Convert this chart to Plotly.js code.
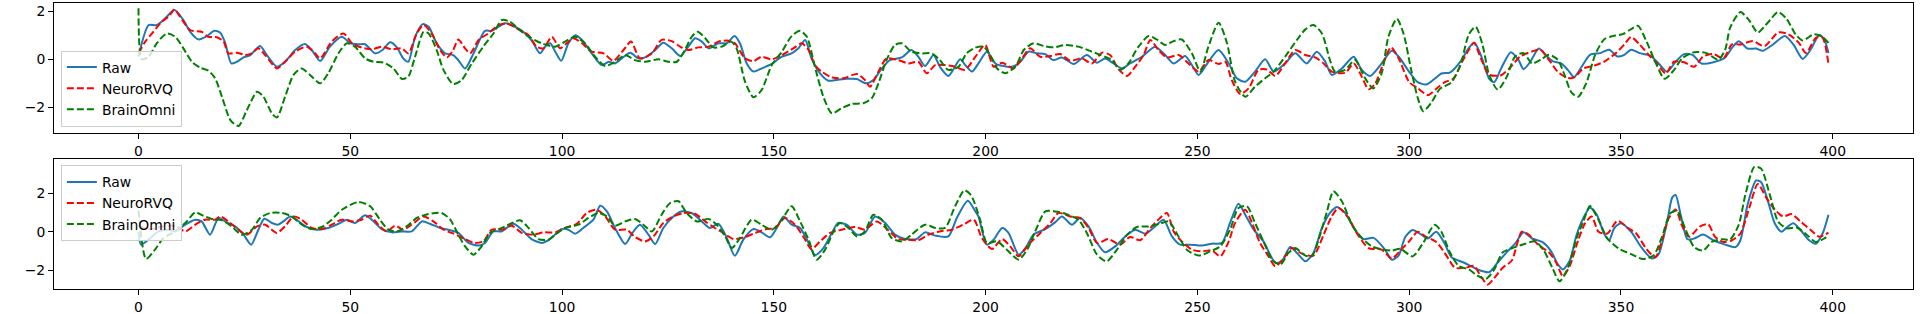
<!DOCTYPE html>
<html>
<head>
<meta charset="utf-8">
<script src="https://cdn.plot.ly/plotly-3.0.1.min.js"></script>
<style>
  html, body { margin: 0; padding: 0; background: #ffffff; }
  #chart { width: 1921px; height: 314px; }
</style>
</head>
<body>
<div id="chart"></div>
<script>
// ---- tick labels / categories ----
const xTicks = [0, 50, 100, 150, 200, 250, 300, 350, 400];
const yTicks = [-2, 0, 2];
const seriesNames = ["Raw", "NeuroRVQ", "BrainOmni"];

// ---- top panel: [sample index, value] ----
const topRaw = [[0,0.11],[2.4,1.43],[4.3,1.43],[6.3,1.71],[8.5,2.06],[10.6,1.64],[12.2,1.15],[14.2,0.83],[16.1,0.97],[17.9,1.19],[19.3,1.11],[20.5,0.67],[21.9,-0.17],[23.2,-0.1],[24.8,0.08],[26.4,0.18],[28.7,0.56],[30.3,0.18],[32.7,-0.31],[34.6,-0.1],[37.0,0.39],[39.3,0.64],[40.9,0.39],[42.9,-0.07],[45.2,0.53],[48.0,0.94],[50.0,0.67],[51.9,0.63],[53.5,0.63],[55.9,0.25],[57.6,0.39],[59.4,0.71],[61.0,0.5],[62.5,0.04],[63.7,-0.1],[65.3,0.94],[67.1,1.47],[68.5,1.36],[70.4,0.67],[72.4,0.25],[74.3,0.18],[75.5,-0.03],[77.1,-0.38],[79.1,0.25],[81.8,1.19],[83.4,1.19],[86.5,1.5],[88.9,1.36],[91.3,1.08],[93.0,0.74],[94.8,0.25],[96.0,0.53],[97.2,0.67],[98.4,0.32],[99.8,-0.06],[101.5,0.67],[103.1,1.01],[104.7,0.81],[107.0,0.25],[109.4,-0.24],[111.0,-0.1],[112.5,-0.17],[114.1,0.04],[116.1,0.28],[118.0,0.04],[119.6,0.08],[122.0,0.39],[123.9,0.69],[125.9,0.46],[127.9,0.14],[129.8,0.53],[131.4,0.88],[133.0,0.74],[134.6,0.46],[136.9,0.67],[138.9,0.67],[140.7,0.97],[142.0,0.67],[143.6,-0.17],[145.2,-0.51],[147.1,-0.38],[149.5,-0.19],[151.9,0.11],[154.2,0.25],[155.8,0.46],[157.4,0.81],[158.9,0.04],[160.9,-0.58],[162.9,-0.89],[164.8,-0.86],[167.2,-0.81],[169.6,-0.82],[171.7,-1.0],[173.5,-0.86],[175.5,-0.38],[177.4,-0.03],[180.2,0.08],[182.5,0.39],[184.1,0.11],[185.7,-0.28],[187.7,0.18],[189.2,-0.31],[191.2,-0.69],[194.0,0.0],[195.2,-0.24],[196.8,-0.51],[198.3,-0.17],[200.3,0.32],[202.3,-0.17],[204.2,-0.28],[206.2,-0.31],[208.2,-0.1],[210.1,0.32],[212.1,0.25],[214.1,0.22],[216.0,-0.03],[218.0,0.08],[220.8,-0.19],[223.9,0.18],[226.3,-0.14],[228.2,0.04],[230.2,-0.17],[232.2,-0.38],[234.1,-0.17],[236.9,0.11],[240.0,0.53],[242.4,0.18],[244.4,-0.17],[247.1,0.14],[248.7,-0.24],[250.3,-0.65],[252.6,-0.1],[255.0,0.39],[257.4,-0.17],[259.3,-0.79],[261.3,-0.93],[263.6,-0.51],[266.0,0.0],[268.0,-0.51],[270.7,-0.17],[273.1,0.25],[275.8,-0.17],[278.2,0.32],[280.2,-0.1],[281.7,-0.65],[284.1,-0.38],[286.9,0.11],[288.8,-0.44],[290.8,-0.69],[293.2,-0.24],[295.9,0.36],[297.5,0.12],[300.0,-0.52],[302.0,-0.95],[304.0,-1.05],[306.0,-0.81],[307.6,-0.59],[309.6,-0.55],[312.1,-0.09],[314.1,0.48],[315.4,0.69],[316.9,0.19],[318.9,-0.81],[320.1,-0.95],[321.7,-0.38],[324.0,0.3],[325.8,-0.02],[327.0,-0.41],[328.6,-0.1],[330.6,0.45],[332.2,0.19],[333.8,-0.07],[335.9,-0.17],[337.5,-0.45],[338.9,-0.74],[340.7,-0.31],[342.7,0.19],[345.1,0.26],[347.2,0.4],[349.2,0.12],[350.8,0.19],[352.4,0.4],[354.4,0.26],[356.9,0.16],[358.9,-0.17],[360.9,-0.52],[362.9,-0.1],[364.9,0.22],[366.9,0.19],[369.0,-0.17],[371.8,-0.12],[374.6,0.08],[376.2,0.48],[377.8,0.76],[379.9,0.45],[381.9,0.45],[383.5,0.36],[385.9,0.62],[388.7,0.97],[390.7,0.62],[392.9,0.02],[394.8,0.41],[396.8,1.02],[398.0,0.83],[399.0,0.26]];

const topNeuro = [[0,0.25],[1.6,0.74],[3.5,1.15],[5.5,1.57],[7.1,1.78],[8.5,2.08],[9.8,1.78],[12.2,1.22],[14.9,1.15],[16.5,0.94],[18.5,0.92],[20.1,0.74],[21.2,0.25],[23.2,0.28],[25.2,0.18],[26.7,0.25],[28.3,0.46],[29.9,0.18],[32.7,-0.38],[34.6,-0.1],[37.0,0.32],[39.7,0.53],[41.7,0.25],[42.9,0.04],[45.6,0.74],[48.4,1.08],[50.4,0.67],[52.7,0.49],[55.1,0.42],[57.4,0.53],[59.8,0.42],[62.2,0.46],[63.7,0.25],[65.7,1.08],[67.3,1.43],[69.2,1.08],[71.2,0.39],[72.8,0.08],[74.3,0.39],[75.5,0.83],[77.1,0.46],[78.3,0.25],[80.3,0.81],[82.6,1.08],[85.0,1.43],[87.0,1.5],[89.3,1.29],[92.1,1.01],[94.0,0.53],[95.6,0.46],[97.6,0.94],[99.5,0.46],[101.1,0.67],[102.7,0.88],[104.7,0.67],[107.0,0.32],[109.8,0.25],[112.1,-0.06],[114.5,0.39],[116.3,0.74],[118.4,0.04],[121.2,0.25],[123.5,0.81],[125.9,0.76],[127.9,0.53],[129.8,0.39],[132.2,0.5],[134.6,0.53],[136.9,0.74],[139.3,0.78],[140.8,0.67],[143.2,0.04],[145.2,-0.07],[147.1,0.11],[149.5,0.0],[151.9,0.18],[154.6,0.46],[156.6,0.67],[158.2,0.39],[159.7,-0.24],[161.3,-0.51],[163.7,-0.75],[166.4,-0.79],[169.6,-0.61],[171.5,-0.86],[172.7,-1.14],[174.7,-0.51],[176.6,0.04],[179.4,-0.03],[181.8,-0.17],[184.1,-0.1],[186.1,-0.58],[188.1,-0.24],[190.4,-0.24],[192.8,-0.31],[195.1,-0.44],[197.6,0.11],[199.9,0.6],[201.9,-0.31],[203.9,-0.14],[206.6,-0.38],[208.6,0.04],[210.5,0.46],[212.9,0.11],[215.3,0.14],[217.6,0.22],[220.0,-0.06],[222.7,0.04],[225.1,-0.17],[227.5,0.28],[229.4,0.18],[231.4,-0.42],[233.4,-0.69],[235.3,-0.31],[237.3,0.18],[238.9,0.81],[240.8,0.39],[242.8,0.08],[245.6,0.18],[247.9,-0.17],[250.3,-0.51],[252.6,-0.03],[255.0,-0.19],[256.6,-0.1],[258.1,-0.86],[260.1,-1.44],[262.1,-1.21],[264.4,-0.44],[266.4,-0.42],[268.4,-0.69],[270.7,-0.17],[273.1,0.39],[275.5,0.18],[277.8,0.08],[279.8,-0.17],[281.7,-0.51],[284.9,-0.56],[286.9,-0.17],[288.8,-0.72],[290.4,-1.25],[292.0,-1.0],[293.9,-0.17],[295.7,0.5],[297.5,0.05],[300.0,-0.95],[302.0,-1.2],[304.4,-1.49],[306.4,-1.23],[308.4,-0.95],[310.4,-0.81],[312.5,-0.1],[314.1,0.4],[315.3,0.69],[316.9,0.05],[318.9,-0.64],[321.7,-0.66],[323.8,-0.35],[326.2,0.12],[329.0,0.33],[331.0,0.4],[333.0,-0.02],[335.1,-0.52],[337.5,-0.78],[339.1,-0.74],[341.1,-0.38],[343.5,-0.27],[346.0,-0.1],[348.8,0.26],[350.8,0.62],[352.4,0.93],[354.4,0.62],[356.9,0.12],[358.5,-0.17],[360.6,-0.59],[362.5,-0.1],[364.9,-0.12],[367.3,-0.31],[369.4,0.12],[371.8,0.22],[374.2,0.05],[376.2,0.62],[378.2,0.62],[381.1,0.76],[383.9,0.55],[387.1,1.12],[389.5,1.05],[392.0,0.69],[393.7,0.26],[396.0,0.9],[397.6,0.9],[399.0,-0.21]];

const topBrain = [[0,2.13],[0.8,0.0],[2.4,0.11],[4.3,0.67],[6.7,1.08],[8.7,0.94],[10.6,0.46],[12.6,-0.1],[14.6,-0.35],[16.5,-0.47],[18.1,-0.79],[19.7,-1.56],[21.7,-2.53],[23.6,-2.78],[25.6,-2.11],[28.0,-1.35],[29.5,-1.56],[31.5,-2.25],[32.7,-2.42],[34.6,-1.56],[36.6,-0.65],[38.5,-0.38],[40.5,-0.65],[42.9,-1.0],[44.8,-0.58],[47.2,0.25],[49.2,0.67],[51.1,0.53],[53.5,0.04],[55.5,-0.1],[57.8,-0.13],[60.2,-0.38],[62.2,-0.82],[63.7,-0.72],[65.3,0.11],[67.3,1.15],[68.5,1.08],[70.4,0.39],[72.0,-0.44],[74.3,-1.03],[76.3,-0.86],[78.7,-0.17],[81.4,0.53],[83.8,1.08],[85.8,1.64],[87.7,1.57],[90.5,1.15],[92.8,0.88],[95.2,0.67],[98.4,0.53],[100.7,0.74],[103.1,0.94],[105.4,0.67],[107.8,0.11],[110.2,-0.28],[112.5,-0.1],[114.9,0.18],[117.2,-0.03],[119.6,-0.1],[122.8,0.0],[125.1,-0.1],[127.1,-0.1],[129.0,0.39],[130.6,0.94],[132.0,1.15],[133.8,0.88],[135.7,0.5],[137.7,0.53],[139.9,0.74],[141.2,0.46],[143.2,-0.93],[145.2,-1.58],[147.1,-1.28],[149.5,-0.24],[151.9,0.32],[154.2,0.97],[156.2,1.19],[157.8,0.94],[159.7,-0.31],[161.7,-1.56],[163.7,-2.25],[166.0,-2.04],[168.4,-1.86],[171.1,-1.83],[173.1,-1.63],[174.7,-1.0],[176.6,-0.03],[178.6,0.6],[180.2,0.67],[182.5,0.32],[184.9,0.25],[187.3,0.25],[189.2,-0.03],[191.2,-0.44],[193.6,-0.31],[195.5,0.25],[197.6,0.49],[199.5,0.53],[201.1,0.18],[202.7,-0.38],[204.6,-0.58],[207.0,-0.31],[209.0,0.39],[211.3,0.67],[213.7,0.56],[216.0,0.5],[218.8,0.6],[221.9,0.53],[225.1,0.32],[228.2,0.11],[229.8,-0.03],[231.8,-0.44],[233.7,-0.17],[236.1,0.53],[238.5,0.97],[240.4,0.83],[242.4,0.6],[244.4,0.76],[246.3,0.83],[248.7,0.25],[250.7,-0.51],[252.6,0.53],[255.0,1.53],[257.0,0.67],[258.9,-0.93],[261.3,-1.56],[263.6,-1.14],[266.0,-0.79],[268.0,-0.51],[270.7,0.11],[273.5,0.81],[275.5,1.25],[277.4,1.43],[279.4,1.08],[281.3,-0.03],[282.5,-0.51],[284.9,-0.44],[287.2,-0.03],[289.6,-0.79],[291.5,-1.21],[293.5,-0.58],[295.1,0.95],[297.1,1.69],[298.7,1.05],[300.4,-0.38],[302.0,-1.59],[303.3,-2.16],[305.2,-1.81],[307.2,-1.24],[310.0,-0.95],[312.1,-0.24],[314.1,1.05],[315.7,1.36],[317.3,0.62],[318.9,-0.66],[320.9,-1.26],[323.0,-0.74],[325.0,0.12],[327.0,0.26],[329.0,-0.17],[331.0,-0.02],[333.0,0.19],[335.1,-0.02],[336.7,-0.66],[338.3,-1.38],[339.9,-1.56],[341.9,-0.95],[343.9,0.19],[346.0,0.83],[348.0,0.97],[350.4,1.05],[352.4,1.26],[354.0,1.4],[356.0,0.76],[358.1,-0.1],[360.3,-0.81],[362.5,-0.45],[364.5,0.05],[367.3,0.3],[370.2,0.26],[373.0,-0.02],[374.6,0.4],[375.8,1.33],[378.2,1.97],[380.3,1.62],[382.3,1.12],[384.7,1.54],[387.1,1.97],[389.1,1.69],[391.2,1.05],[392.9,0.79],[395.6,1.05],[397.6,0.93],[399.0,0.69]];

// ---- bottom panel ----
const botRaw = [[0,0.0],[0.6,-0.66],[2.8,-0.31],[4.7,0.03],[7.1,0.12],[8.7,0.03],[11.0,0.38],[13.4,0.64],[14.9,0.55],[16.9,-0.14],[18.9,0.73],[20.8,0.5],[22.8,0.29],[24.8,-0.14],[26.6,-0.66],[28.3,0.12],[29.7,0.69],[31.5,0.47],[32.9,0.38],[34.2,0.55],[35.8,0.81],[37.8,0.55],[39.7,0.26],[42.1,0.12],[44.8,0.21],[47.2,0.43],[49.2,0.64],[51.1,0.47],[53.5,0.87],[55.5,0.55],[57.4,0.15],[59.8,-0.02],[62.2,0.03],[64.5,0.03],[66.9,0.55],[68.8,0.43],[71.2,0.21],[73.6,0.09],[75.5,-0.05],[77.9,-0.57],[80.3,-0.71],[81.8,-0.57],[83.8,0.03],[85.8,0.03],[88.5,0.43],[90.5,0.12],[92.8,-0.37],[95.2,-0.57],[97.0,-0.4],[99.9,0.15],[101.5,0.12],[103.1,-0.09],[105.0,0.21],[107.4,0.64],[109.0,1.37],[110.6,1.07],[112.5,0.21],[114.9,-0.63],[116.6,-0.05],[118.4,0.38],[120.4,-0.14],[122.0,-0.63],[123.9,0.21],[126.3,0.81],[128.1,1.07],[130.6,0.99],[133.0,0.55],[134.9,0.21],[136.9,0.43],[138.9,-0.31],[140.8,-1.24],[142.8,-0.4],[145.2,0.15],[147.1,-0.02],[149.1,-0.28],[150.7,0.21],[152.3,0.81],[154.2,0.38],[156.2,0.21],[158.2,-0.57],[159.7,-1.2],[161.7,-0.84],[163.7,-0.05],[165.2,0.47],[167.2,0.38],[169.6,-0.14],[171.5,-0.05],[173.9,0.81],[176.3,0.47],[178.6,-0.14],[181.0,-0.37],[183.7,-0.37],[185.7,-0.02],[188.1,-0.19],[191.2,-0.23],[193.2,0.73],[195.8,1.62],[197.5,1.1],[198.3,0.81],[200.3,-0.66],[201.9,-0.4],[203.9,0.21],[205.4,-0.05],[207.8,-1.18],[209.4,-0.84],[211.3,-0.14],[214.1,0.15],[216.4,0.5],[218.0,0.81],[220.4,0.38],[222.3,0.73],[224.3,0.29],[226.3,-0.57],[228.2,-1.06],[230.6,-0.75],[233.0,-0.23],[235.3,0.12],[237.7,-0.09],[240.0,0.29],[242.0,0.64],[244.0,-0.23],[245.9,-0.66],[248.3,-0.66],[251.1,-0.71],[253.4,-0.61],[255.8,-0.57],[257.7,0.47],[259.7,1.47],[261.3,0.9],[263.3,0.12],[265.6,-0.49],[268.4,-1.61],[269.9,-1.53],[271.9,-0.78],[273.5,-1.09],[275.5,-1.53],[277.4,-1.09],[279.4,0.21],[281.3,0.99],[282.9,1.3],[284.9,0.99],[286.9,0.21],[289.2,-0.37],[291.6,-0.31],[294.3,-0.92],[295.9,-1.45],[297.5,-1.23],[299.1,-0.25],[300.8,0.1],[302.8,-0.13],[304.4,-0.34],[306.4,0.01],[308.4,-0.61],[310.0,-1.32],[312.9,-1.59],[316.1,-1.95],[318.9,-2.09],[320.9,-1.59],[323.0,-1.06],[325.0,-0.61],[327.0,-0.02],[329.0,-0.34],[331.4,-0.52],[333.4,-0.97],[335.1,-1.68],[336.3,-1.95],[337.9,-1.5],[339.5,-0.17],[341.1,0.72],[342.7,1.26],[344.3,0.9],[346.0,-0.08],[347.2,-0.43],[348.4,0.19],[350.0,0.46],[352.4,0.01],[354.8,-0.79],[357.3,-1.38],[358.9,-1.15],[360.9,0.55],[362.1,1.79],[362.9,1.93],[364.1,0.9],[365.7,-0.38],[367.3,-0.34],[369.4,-0.13],[371.8,-0.43],[374.6,-0.66],[377.0,-0.79],[378.2,-0.43],[379.9,1.43],[381.9,2.68],[383.1,2.59],[384.7,1.61],[386.3,0.45],[387.9,0.01],[389.1,0.23],[390.7,0.45],[392.4,0.1],[394.4,-0.43],[396.0,-0.61],[397.6,-0.08],[399.0,0.9]];

const botNeuro = [[0,0.3],[1.5,0.2],[3.0,0.15],[6.0,0.3],[9.0,0.3],[11.0,0.03],[13.4,0.38],[15.7,0.64],[18.1,0.64],[19.3,0.81],[21.2,0.55],[23.6,0.12],[25.6,-0.14],[28.0,0.29],[29.9,0.38],[32.6,-0.05],[34.6,0.29],[36.6,0.81],[38.5,0.64],[40.9,0.21],[43.3,0.15],[45.6,0.38],[48.0,0.64],[50.4,0.55],[52.7,0.64],[54.7,0.85],[56.6,0.38],[58.6,0.03],[60.6,0.33],[62.5,0.12],[64.5,0.38],[67.3,0.81],[69.6,0.55],[72.0,0.12],[74.4,-0.09],[77.1,-0.37],[79.1,-0.57],[81.4,-0.49],[83.4,0.12],[85.8,0.12],[88.1,0.33],[90.5,-0.05],[93.2,-0.14],[95.6,-0.02],[98.4,-0.02],[100.7,0.21],[103.5,0.43],[105.8,0.99],[108.2,1.16],[110.2,0.81],[112.5,0.12],[115.3,0.12],[117.2,-0.26],[119.6,-0.49],[121.6,-0.23],[123.9,0.47],[126.3,0.81],[128.7,0.99],[131.4,0.95],[133.8,0.55],[135.7,0.26],[138.1,-0.05],[140.5,-0.37],[143.2,-0.26],[145.6,-0.05],[148.3,0.15],[150.3,0.21],[152.6,0.73],[155.0,0.38],[157.0,-0.26],[158.9,-0.89],[160.9,-0.49],[163.3,-0.05],[166.0,0.12],[169.2,0.26],[171.5,0.12],[174.3,0.55],[177.0,0.09],[179.4,-0.37],[181.8,-0.4],[184.1,-0.43],[186.5,-0.14],[189.2,0.03],[192.0,0.12],[194.7,0.38],[197.2,0.64],[199.1,-0.31],[201.5,-0.89],[203.9,-0.37],[205.8,-0.75],[207.8,-1.27],[210.1,-0.66],[212.5,-0.14],[215.3,0.47],[217.2,0.99],[220.0,0.81],[222.3,0.73],[224.3,0.21],[226.3,-0.57],[229.0,-0.37],[231.8,-0.66],[234.1,-0.26],[236.5,-0.43],[238.9,0.21],[241.2,0.73],[242.8,0.99],[244.4,0.03],[246.3,-0.49],[248.7,-0.92],[251.1,-1.01],[253.4,-0.96],[255.4,-1.27],[257.4,-0.49],[258.9,0.47],[261.3,1.16],[262.9,0.47],[264.8,-0.57],[266.8,-1.27],[268.4,-1.79],[270.7,-1.27],[272.3,-0.84],[274.7,-1.13],[277.4,-1.23],[279.8,-0.14],[281.7,0.81],[283.3,1.25],[285.7,0.73],[287.6,-0.05],[290.4,-0.84],[293.5,-0.92],[295.9,-1.38],[297.9,-0.97],[300.0,-0.49],[302.0,0.01],[304.0,-0.25],[306.4,-0.52],[308.8,-1.23],[310.8,-1.86],[313.3,-1.86],[315.3,-1.77],[316.9,-2.3],[318.5,-2.74],[320.1,-2.39],[322.1,-1.86],[324.2,-1.5],[326.6,0.01],[328.2,-0.13],[330.6,-0.7],[333.0,-1.06],[334.7,-1.59],[336.3,-2.3],[337.9,-1.77],[339.9,-0.43],[341.5,0.45],[343.1,0.81],[344.7,0.01],[346.8,-0.08],[349.2,0.58],[351.6,0.22],[353.6,-0.08],[356.0,-0.88],[358.1,-1.32],[359.7,-0.43],[361.3,0.72],[362.9,1.17],[364.5,0.28],[366.1,-0.25],[368.6,0.28],[370.6,0.4],[372.2,-0.25],[374.2,-0.52],[376.2,-0.43],[378.2,-0.08],[380.3,1.26],[382.3,2.5],[384.3,1.79],[386.3,1.17],[388.3,0.81],[390.3,0.93],[392.4,0.54],[394.8,0.1],[396.8,-0.25],[399.0,-0.03]];

const botBrain = [[0,1.12],[1.8,-1.4],[3.9,-0.92],[5.9,-0.31],[8.7,0.03],[11.4,0.55],[13.4,1.02],[15.3,0.85],[17.3,0.68],[19.7,0.61],[22.0,0.29],[24.4,-0.14],[26.8,0.12],[28.7,0.73],[31.1,0.99],[33.8,0.99],[36.2,0.81],[38.6,0.38],[40.9,0.15],[43.3,0.26],[45.6,0.64],[48.0,1.16],[51.9,1.56],[54.7,1.34],[57.0,0.64],[59.0,0.12],[61.0,0.03],[63.3,0.29],[65.7,0.73],[68.5,0.94],[71.6,0.99],[73.6,0.64],[75.5,-0.14],[77.1,-0.75],[79.1,-1.18],[81.0,-0.75],[83.0,-0.05],[85.8,0.21],[88.5,0.5],[90.1,0.61],[92.1,0.21],[94.4,-0.37],[96.8,-0.4],[98.4,-0.14],[100.7,0.21],[103.9,0.38],[106.2,0.73],[108.6,0.99],[110.6,0.81],[112.5,0.33],[114.9,0.55],[117.2,0.68],[119.2,0.38],[121.2,0.03],[123.5,0.9],[125.5,1.51],[127.5,1.6],[129.4,0.99],[131.8,0.55],[134.6,0.68],[136.5,0.38],[138.5,-0.23],[140.1,-0.84],[142.0,-0.31],[144.8,0.64],[147.1,0.38],[149.5,0.12],[151.9,0.64],[154.2,1.34],[156.2,0.55],[158.2,-0.4],[160.1,-1.44],[162.1,-0.92],[164.1,0.03],[165.6,0.47],[167.6,0.21],[169.6,-0.23],[171.5,0.03],[173.5,0.9],[175.5,0.64],[177.8,-0.31],[180.2,-0.49],[182.5,-0.14],[185.7,0.38],[188.1,0.21],[190.4,0.21],[192.8,1.34],[195.0,2.17],[196.6,1.9],[198.7,0.64],[200.3,-0.57],[202.7,-0.49],[205.0,-0.92],[207.8,-1.44],[209.8,-0.92],[211.7,0.03],[214.1,1.07],[216.4,1.07],[218.8,0.95],[221.9,0.64],[223.9,-0.05],[226.3,-1.18],[228.6,-1.53],[231.0,-0.92],[233.4,-0.14],[235.7,0.26],[238.5,0.29],[241.2,0.43],[243.2,0.55],[245.6,-0.26],[247.5,-0.92],[250.3,-1.23],[253.0,-1.01],[255.4,-0.75],[257.7,0.12],[259.7,1.25],[261.7,1.34],[263.6,0.47],[265.6,-0.49],[267.6,-1.44],[269.6,-1.7],[271.5,-1.09],[273.1,-0.84],[275.5,-1.23],[277.0,-1.27],[278.6,-0.4],[280.6,1.07],[282.1,2.12],[284.1,1.6],[286.5,0.38],[288.8,-0.31],[291.2,-0.75],[294.0,-0.92],[295.9,-0.97],[297.9,-0.88],[300.8,-1.27],[303.2,-0.61],[306.0,0.37],[307.6,0.01],[309.6,-1.06],[311.7,-1.77],[314.1,-1.95],[316.1,-2.27],[318.1,-2.45],[320.1,-1.95],[322.1,-1.06],[325.0,-0.79],[327.4,-0.61],[329.8,-0.49],[331.8,-0.97],[333.8,-1.86],[335.5,-2.57],[337.5,-1.86],[339.5,-0.34],[341.1,0.55],[342.7,1.35],[344.7,0.63],[346.8,-0.34],[349.6,-0.88],[352.4,-1.15],[355.2,-1.41],[357.7,-1.23],[359.7,-0.25],[361.7,0.99],[363.3,1.08],[365.3,0.1],[367.3,-0.79],[369.4,-0.97],[371.4,-0.52],[373.8,-0.38],[375.8,-0.38],[377.8,0.37],[379.4,1.97],[381.5,3.39],[383.1,3.3],[385.1,1.97],[387.1,0.54],[389.1,0.19],[391.6,0.22],[394.0,-0.17],[396.0,-0.52],[398.0,-0.34],[399.0,-0.17]];

// ---- build figure ----
const FONT = "DejaVu Sans, Liberation Sans, sans-serif";
const styles = [
  {color: "#1f77b4", width: 2, dash: "solid"},
  {color: "#ff0000", width: 2, dash: "7px,3px"},
  {color: "#008000", width: 2, dash: "7px,3px"}
];

function mk(data, idx, xa, ya, legendId) {
  return {
    type: "scatter", mode: "lines",
    x: data.map(p => p[0]), y: data.map(p => p[1]),
    name: seriesNames[idx],
    xaxis: xa, yaxis: ya,
    legend: legendId,
    legendgroup: legendId + "_" + idx,
    line: {color: styles[idx].color, width: styles[idx].width, dash: styles[idx].dash, shape: "spline", smoothing: 0.7}
  };
}

const traces = [
  mk(topRaw, 0, "x2", "y2", "legend"),
  mk(topNeuro, 1, "x2", "y2", "legend"),
  mk(topBrain, 2, "x2", "y2", "legend"),
  mk(botRaw, 0, "x", "y", "legend2"),
  mk(botNeuro, 1, "x", "y", "legend2"),
  mk(botBrain, 2, "x", "y", "legend2")
];

const xCommon = {
  range: [-19.95, 418.95],
  tickmode: "array", tickvals: xTicks, ticktext: xTicks.map(String),
  ticks: "outside", ticklen: 5, tickwidth: 1, tickcolor: "#000",
  showline: true, mirror: true, linecolor: "#000", linewidth: 1,
  showgrid: false, zeroline: false,
  tickfont: {family: FONT, size: 13.9, color: "#000"}
};
const yCommon = {
  tickmode: "array", tickvals: yTicks, ticktext: yTicks.map(v => v < 0 ? "\u2212" + Math.abs(v) : String(v)),
  ticks: "outside", ticklen: 5, tickwidth: 1, tickcolor: "#000",
  showline: true, mirror: true, linecolor: "#000", linewidth: 1,
  showgrid: false, zeroline: false,
  tickfont: {family: FONT, size: 13.9, color: "#000"}
};
const legendCommon = {
  bgcolor: "rgba(255,255,255,0.8)", bordercolor: "#cccccc", borderwidth: 1,
  font: {family: FONT, size: 13.9, color: "#000"},
  xanchor: "left", x: 0.0037, tracegroupgap: 3, itemwidth: 30, traceorder: "normal"
};

const layout = {
  width: 1921, height: 314,
  margin: {l: 53.5, r: 8, t: 3, b: 25, pad: 0},
  paper_bgcolor: "#ffffff", plot_bgcolor: "#ffffff",
  showlegend: true,
  xaxis: Object.assign({}, xCommon, {domain: [0, 1], anchor: "y"}),
  yaxis: Object.assign({}, yCommon, {domain: [0, 0.4545], range: [-2.97, 3.80], anchor: "x"}),
  xaxis2: Object.assign({}, xCommon, {domain: [0, 1], anchor: "y2"}),
  yaxis2: Object.assign({}, yCommon, {domain: [0.5455, 1], range: [-3.07, 2.35], anchor: "x2"}),
  legend: Object.assign({}, legendCommon, {yanchor: "bottom", y: 0.568}),
  legend2: Object.assign({}, legendCommon, {yanchor: "top", y: 0.432})
};

Plotly.newPlot("chart", traces, layout, {displayModeBar: false, staticPlot: true});
</script>
</body>
</html>
